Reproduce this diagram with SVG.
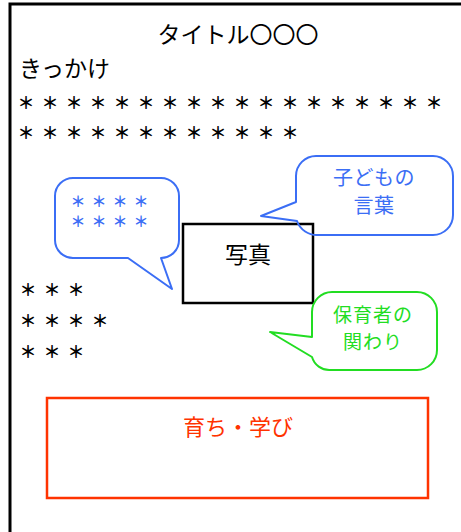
<svg xmlns="http://www.w3.org/2000/svg" width="461" height="532" viewBox="0 0 461 532">
<style>
text{font-family:"Noto Sans CJK JP","Noto Sans",sans-serif;dominant-baseline:central}
.k{fill:#000;font-size:23px}
.s{fill:#000;font-size:17px;font-weight:bold;letter-spacing:7px}
.b{fill:#3B6EF5}
.g{fill:#22DD22}
.bub{fill:none;stroke-width:2;stroke-linejoin:round}
</style>
<rect width="461" height="532" fill="#fff"/>
<g id="frame">
<rect x="10" y="4" width="470" height="560" fill="none" stroke="#000" stroke-width="3"/>
</g>
<g id="title"><text class="k" x="238" y="33" text-anchor="middle">タイトル〇〇〇</text></g>
<g id="kikkake"><text class="k" x="19" y="67">きっかけ</text></g>
<g id="stars1">
<text class="s" x="17.5" y="101">＊＊＊＊＊＊＊＊＊＊＊＊＊＊＊＊＊＊</text>
<text class="s" x="17.5" y="131">＊＊＊＊＊＊＊＊＊＊＊＊</text>
</g>
<g id="stars2">
<text class="s" x="19.5" y="288" letter-spacing="8">＊＊＊</text>
<text class="s" x="19.5" y="319" letter-spacing="8">＊＊＊＊</text>
<text class="s" x="19.5" y="350" letter-spacing="8">＊＊＊</text>
</g>
<g id="photo">
<rect x="183" y="224" width="130" height="79" fill="none" stroke="#000" stroke-width="2.5"/>
<text class="k" x="248" y="253" text-anchor="middle">写真</text>
</g>
<g id="bubble-left">
<path class="bub" stroke="#3B6EF5" d="M73,178 H161 A18,18 0 0 1 179,196 V240 A18,18 0 0 1 161,258 L172,289 L128,258 H73 A18,18 0 0 1 55,240 V196 A18,18 0 0 1 73,178 Z"/>
<text class="b" font-size="15" font-weight="bold" letter-spacing="6"><tspan x="70.5" y="200">＊＊＊＊</tspan><tspan x="70.5" y="220">＊＊＊＊</tspan></text>
</g>
<g id="bubble-child">
<path class="bub" stroke="#3B6EF5" d="M316,156 H433 A20,20 0 0 1 453,176 V215 A20,20 0 0 1 433,235 H318 A21,21 0 0 1 297,221 L261,216 L296,202 V176 A20,20 0 0 1 316,156 Z"/>
<text class="b" font-size="20" text-anchor="middle" letter-spacing="0.5"><tspan x="374" y="176">子どもの</tspan><tspan x="374" y="204">言葉</tspan></text>
</g>
<g id="bubble-teacher">
<path class="bub" stroke="#22DD22" d="M332,292 H417 A20,20 0 0 1 437,312 V350 A20,20 0 0 1 417,370 H330 A18,18 0 0 1 312,357 L270,332 L312,337 V312 A20,20 0 0 1 332,292 Z"/>
<text class="g" font-size="19" text-anchor="middle" letter-spacing="1"><tspan x="373" y="313">保育者の</tspan><tspan x="373" y="340">関わり</tspan></text>
</g>
<g id="growth">
<rect x="47" y="398" width="381" height="100" fill="none" stroke="#FF3300" stroke-width="2.5"/>
<text x="238" y="425" font-size="22" fill="#FF3300" text-anchor="middle">育ち・学び</text>
</g>
<g id="connectors"></g>
</svg>
